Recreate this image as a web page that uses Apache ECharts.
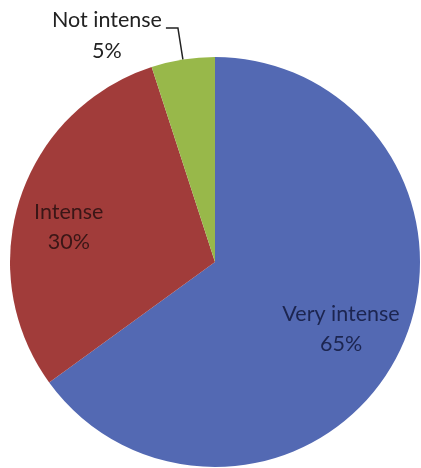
<!DOCTYPE html>
<html>
<head>
<meta charset="utf-8">
<script src="https://cdn.jsdelivr.net/npm/echarts@6/dist/echarts.min.js"></script>
<style>
  html, body { margin: 0; padding: 0; background: #ffffff; }
  #chart { width: 421px; height: 468px; }
</style>
</head>
<body>
<div id="chart"></div>
<script>
// Share of respondents by perceived intensity
const categories = ['Very intense', 'Intense', 'Not intense'];
const shares = [65, 30, 5];
const sliceColors = ['#5369b3', '#a13c3a', '#98b84a'];
const textColors = ['#1c2550', '#3a1616', '#222222'];

// Pie geometry (pixels) and where inside labels sit along each slice's mid-angle
const CX = 215, CY = 262, R = 205;
const labelRadius = [0.69, 0.75, null];
const labelNudgeY = [3, 13, 0];
const FONT = 'Lato';
const FONT_SIZE = 21.5;

const total = shares.reduce((a, b) => a + b, 0);

function midAngle(i) {
  let before = 0;
  for (let k = 0; k < i; k++) before += shares[k];
  return (before + shares[i] / 2) / total * Math.PI * 2;
}

const chart = echarts.init(document.getElementById('chart'), null, { renderer: 'canvas' });

chart.setOption({
  backgroundColor: '#ffffff',
  animation: false,
  series: [{
    type: 'pie',
    center: [CX, CY],
    radius: [0, R],
    startAngle: 90,
    clockwise: true,
    avoidLabelOverlap: false,
    label: {
      fontFamily: FONT,
      fontSize: FONT_SIZE,
      lineHeight: 30,
      formatter: p => p.name + '\n' + p.value + '%'
    },
    labelLayout: function (p) {
      const f = labelRadius[p.dataIndex];
      if (f == null) return {};
      const a = midAngle(p.dataIndex);
      return {
        x: CX + Math.sin(a) * R * f,
        y: CY - Math.cos(a) * R * f + labelNudgeY[p.dataIndex],
        align: 'center',
        verticalAlign: 'middle'
      };
    },
    data: categories.map((name, i) => {
      const inside = labelRadius[i] != null;
      return {
        name: name,
        value: shares[i],
        itemStyle: { color: sliceColors[i] },
        label: inside
          ? { position: 'inside', color: textColors[i] }
          : {
              position: 'outside',
              color: textColors[i],
              padding: [16, 0, 0, 0],
              formatter: p => '{t|' + p.name + '}\n{t|' + p.value + '%}',
              rich: { t: { fontFamily: FONT, fontSize: FONT_SIZE, lineHeight: 31, width: 114, align: 'center', color: textColors[i] } },
              distanceToLabelLine: 2
            },
        labelLine: inside
          ? { show: false }
          : { show: true, length: 32, length2: 12, lineStyle: { color: '#222222', width: 1.5 } }
      };
    })
  }]
});
</script>
</body>
</html>
